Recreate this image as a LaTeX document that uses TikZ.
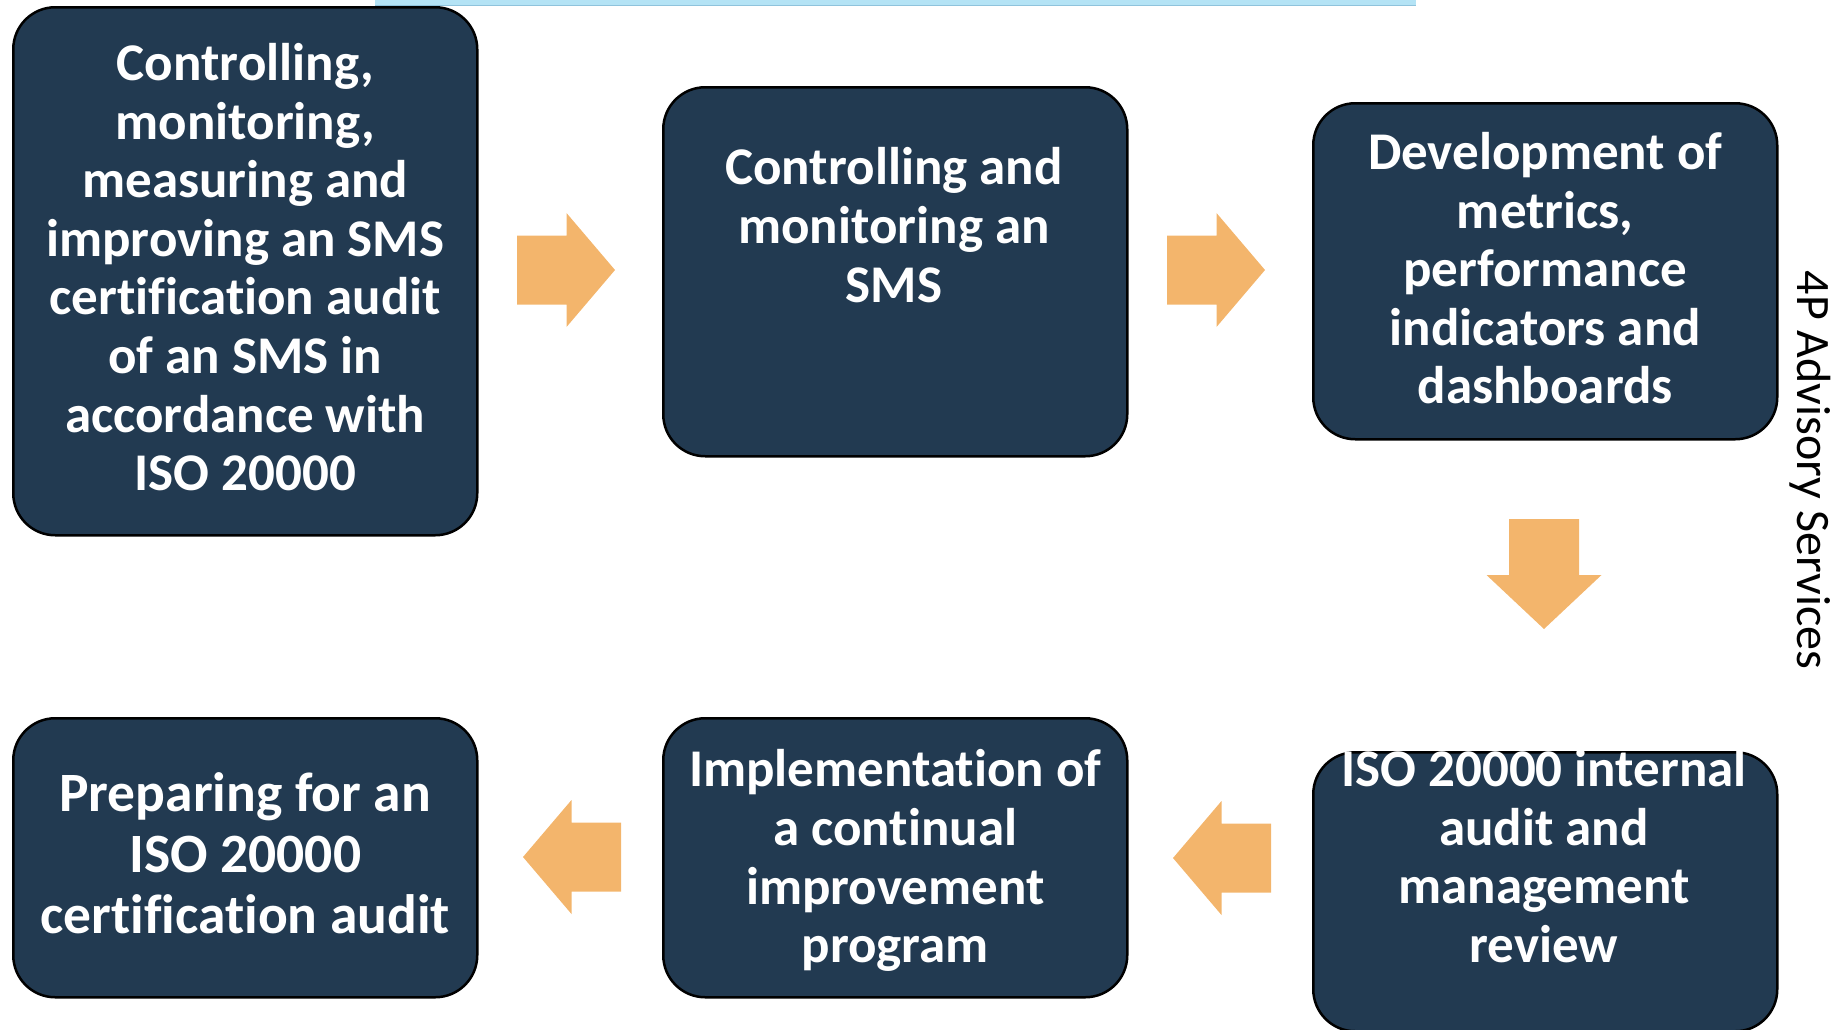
\documentclass[tikz,border=0pt]{standalone}
\usepackage{fontspec}
\setmainfont{Carlito}[Ligatures=NoCommon]
\definecolor{boxfill}{HTML}{223A51}
\definecolor{arrowfill}{HTML}{F3B56C}
\definecolor{stripblue}{HTML}{B4E3F5}
\definecolor{stripedge}{HTML}{8FC3DC}
\begin{document}
\begin{tikzpicture}[x=1pt,y=-1pt,
  stepbox/.style={draw=black, line width=2.5pt, fill=boxfill, rounded corners=42pt,
    minimum width=464pt, minimum height=279pt, anchor=north west, inner sep=0pt},
  boxtext/.style={text=white, font=\bfseries\fontsize{53}{58.6}\selectfont, align=center, inner sep=0pt},
  bigtext/.style={boxtext, font=\bfseries\fontsize{55.5}{61}\selectfont},
  sidetext/.style={text=black, font=\fontsize{48}{58}\selectfont, inner sep=0pt},
  harrow/.pic={\fill[arrowfill] (-49,-34.5) -- (0.5,-34.5) -- (0.5,-57) -- (49,0) -- (0.5,57) -- (0.5,34.5) -- (-49,34.5) -- cycle;},
  varrow/.pic={\fill[arrowfill] (-35,-55) -- (35,-55) -- (35,1) -- (57.5,1) -- (0,55) -- (-57.5,1) -- (-35,1) -- (-35,-55) -- cycle;}
]
\useasboundingbox (0,0) rectangle (1837,1029);
\clip (0,0) rectangle (1837,1029);
% top strip
\fill[stripblue] (375,0) rectangle (1416,5);
\draw[stripedge, line width=1pt] (375,5) -- (1416,5);

% boxes
\node[stepbox, minimum height=528pt] (b1) at (12,6) {};
\node[stepbox, minimum height=369pt] (b2) at (662,86) {};
\node[stepbox, minimum height=336pt] (b3) at (1312,102) {};
\node[stepbox] (b4) at (12,717) {};
\node[stepbox] (b5) at (662,717) {};
\node[stepbox] (b6) at (1312,751) {};

% texts
\node[boxtext, yshift=4pt] (t1) at (b1.center) {Controlling,\\monitoring,\\measuring and\\improving an SMS\\certification audit\\of an SMS in\\accordance with\\ISO 20000};
\node[boxtext] (t2) at (894,225) {Controlling and\\monitoring an\\SMS};
\node[boxtext, yshift=3pt] (t3) at (b3.center) {Development of\\metrics,\\performance\\indicators and\\dashboards};
\node[bigtext, yshift=5pt] (t4) at (b4.center) {Preparing for an\\ISO 20000\\certification audit};
\node[boxtext, yshift=-3pt] (t5) at (b5.center) {Implementation of\\a continual\\improvement\\program};
\node[boxtext] (t6) at (1544,856) {ISO 20000 internal\\audit and\\management\\review};

% block arrows
\pic at (566,270) {harrow};
\pic at (1216,270) {harrow};
\pic at (1544,574) {varrow};
\pic[rotate=180] at (572,857) {harrow};
\pic[rotate=180] at (1222,858) {harrow};

% side label
\node[sidetext, rotate=-90] (side) at (1810,470) {4P Advisory Services};
\end{tikzpicture}
\end{document}
